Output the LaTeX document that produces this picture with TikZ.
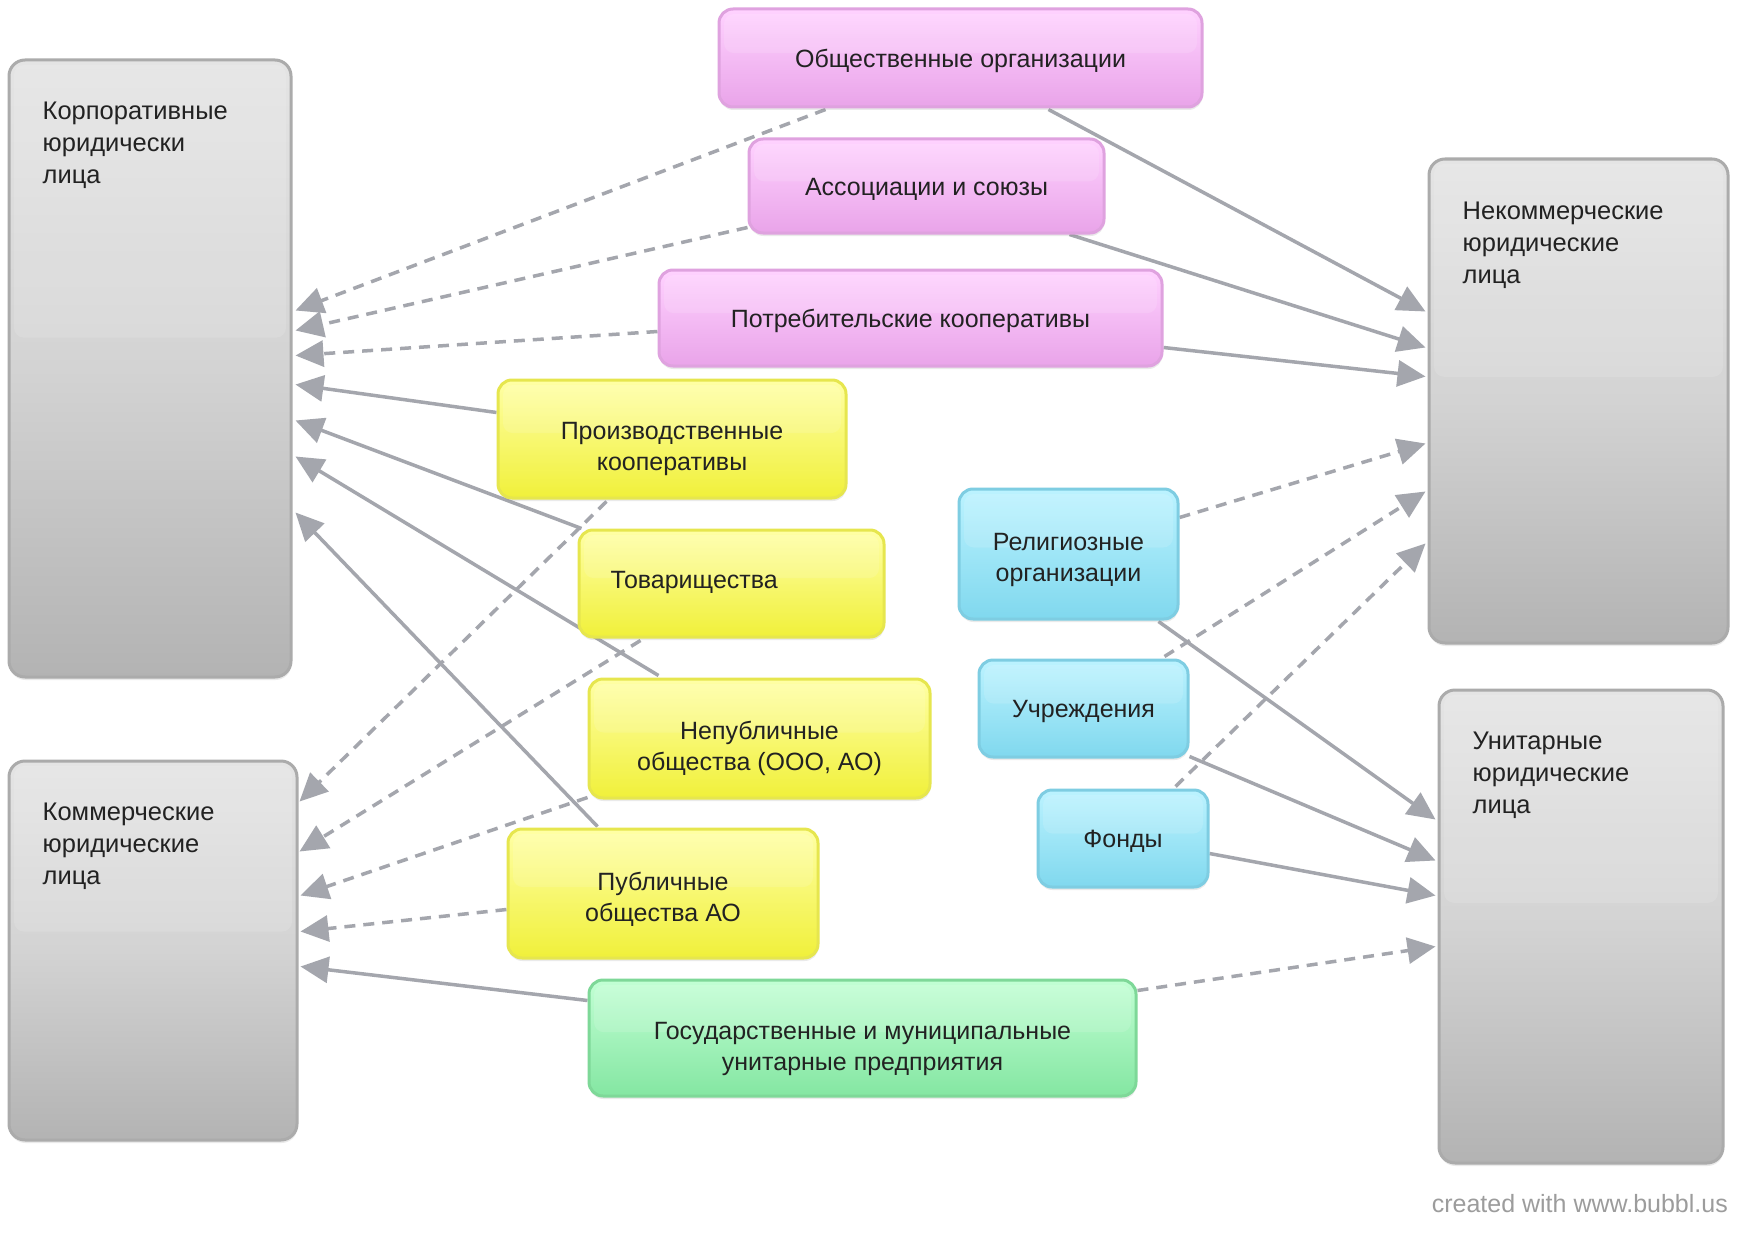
\documentclass[tikz,border=0pt]{standalone}
\usepackage{fontspec}
\setmainfont{Liberation Sans}
\usetikzlibrary{arrows.meta,calc,shadows}
\definecolor{txt}{HTML}{222222}
\definecolor{arr}{HTML}{A4A6AD}
\definecolor{wmc}{HTML}{9C9C9C}
\definecolor{grayT}{HTML}{E4E4E4}
\definecolor{grayM}{HTML}{D3D3D3}
\definecolor{grayD}{HTML}{B3B3B3}
\definecolor{grayB}{HTML}{ABABAB}
\definecolor{pinkT}{HTML}{FFD2FF}
\definecolor{pinkD}{HTML}{E9A4E9}
\definecolor{pinkB}{HTML}{DFA2DF}
\definecolor{yelT}{HTML}{FFFFA6}
\definecolor{yelD}{HTML}{F0F03A}
\definecolor{yelB}{HTML}{E6E64E}
\definecolor{cyaT}{HTML}{BCF3FF}
\definecolor{cyaD}{HTML}{80D8EE}
\definecolor{cyaB}{HTML}{7ECDE2}
\definecolor{grnT}{HTML}{C2FFD4}
\definecolor{grnD}{HTML}{84E6A2}
\definecolor{grnB}{HTML}{7ED898}
\pgfdeclarelayer{bg}
\pgfsetlayers{bg,main}
\tikzset{
  box/.style={rectangle, rounded corners=14pt, line width=3pt, inner sep=0pt,
    drop shadow={shadow xshift=0.5pt, shadow yshift=-3pt, opacity=0.16},
    path picture={\fill[white, opacity=0.13, rounded corners=10pt]
      ($(path picture bounding box.north west)+(5,5)$) rectangle
      ($(path picture bounding box.north east)!0.45!(path picture bounding box.south east)+(-5,0)$);}},
  graybox/.style={box, rounded corners=16pt, draw=grayB, top color=grayT, bottom color=grayD, middle color=grayM},
  pinkbox/.style={box, draw=pinkB, top color=pinkT, bottom color=pinkD},
  yelbox/.style={box, draw=yelB, top color=yelT, bottom color=yelD},
  cyabox/.style={box, draw=cyaB, top color=cyaT, bottom color=cyaD},
  grnbox/.style={box, draw=grnB, top color=grnT, bottom color=grnD},
  boxtext/.style={align=center, inner sep=0pt, text=txt, font=\fontsize{25}{31}\selectfont},
  biglabel/.style={anchor=north west, align=left, inner sep=0pt, text=txt, font=\fontsize{25.5}{32.3}\selectfont},
  conn/.style={draw=arr, line width=3.5pt, -{Triangle[length=28pt,width=26pt]}},
  dconn/.style={conn, dash pattern=on 11pt off 8pt}
}
\begin{document}
\begin{tikzpicture}[x=1pt,y=-1pt]
\useasboundingbox (0,0) rectangle (1748,1236);

% big category boxes
\node[graybox, minimum width=282pt, minimum height=617pt] (korp) at (150,368.5) {};
\node[graybox, minimum width=288pt, minimum height=379pt] (komm) at (153,950.5) {};
\node[graybox, minimum width=299pt, minimum height=484pt] (nekomm) at (1578.5,401) {};
\node[graybox, minimum width=284pt, minimum height=473pt] (unit) at (1581,926.5) {};

\node[biglabel] (korpt) at ($(korp.north west)+(35,43)$) {Корпоративные\\юридически\\лица};
\node[biglabel] (kommt) at ($(komm.north west)+(35,43)$) {Коммерческие\\юридические\\лица};
\node[biglabel] (nekommt) at ($(nekomm.north west)+(35,44)$) {Некоммерческие\\юридические\\лица};
\node[biglabel] (unitt) at ($(unit.north west)+(35,43)$) {Унитарные\\юридические\\лица};

% pink
\node[pinkbox, minimum width=483pt, minimum height=98pt,
  label={[boxtext, name=obsht, yshift=-3pt]center:Общественные организации}] (obsh) at (960.5,58) {};
\node[pinkbox, minimum width=355pt, minimum height=94pt,
  label={[boxtext, name=assoct, yshift=-3pt]center:Ассоциации и союзы}] (assoc) at (926.5,186) {};
\node[pinkbox, minimum width=503pt, minimum height=96pt,
  label={[boxtext, name=potrebt, yshift=-3pt]center:Потребительские кооперативы}] (potreb) at (910.5,318) {};
% yellow
\node[yelbox, minimum width=348pt, minimum height=118pt,
  label={[boxtext, name=proizvt, yshift=-9.5pt]center:Производственные\\кооперативы}] (proizv) at (672,439) {};
\node[yelbox, minimum width=305pt, minimum height=107pt,
  label={[boxtext, name=tovart, anchor=west, xshift=33pt, yshift=1.5pt]west:Товарищества}] (tovar) at (731.5,583.5) {};
\node[yelbox, minimum width=341pt, minimum height=119pt,
  label={[boxtext, name=nepublt, yshift=-10pt]center:Непубличные\\общества (ООО, АО)}] (nepubl) at (759.5,738.5) {};
\node[yelbox, minimum width=310pt, minimum height=129pt,
  label={[boxtext, name=publt, yshift=-6pt]center:Публичные\\общества АО}] (publ) at (663,893.5) {};
% green
\node[grnbox, minimum width=547pt, minimum height=116pt,
  label={[boxtext, name=gost, yshift=-10.5pt]center:Государственные и муниципальные\\унитарные предприятия}] (gos) at (862.5,1038) {};
% cyan
\node[cyabox, minimum width=219pt, minimum height=130pt,
  label={[boxtext, name=religt, yshift=-6pt]center:Религиозные\\организации}] (relig) at (1068.5,554) {};
\node[cyabox, minimum width=209pt, minimum height=97pt,
  label={[boxtext, name=uchrt, yshift=-3pt]center:Учреждения}] (uchr) at (1083.5,708.5) {};
\node[cyabox, minimum width=170pt, minimum height=97pt,
  label={[boxtext, name=fondt, yshift=-3pt]center:Фонды}] (fond) at (1123,838.5) {};

\node[anchor=east, inner sep=0pt, text=wmc, font=\fontsize{25}{28}\selectfont] (wm) at (1728,1204) {created with www.bubbl.us};

\begin{pgfonlayer}{bg}
\fill[white] (0,0) rectangle (1748,1236);
% to korp
\draw[dconn] ($(obsh.south west)+(108,1)$) -- ($(korp.north east)+(3,252)$);
\draw[dconn] ($(assoc.south west)+(0,-7)$) -- ($(korp.north east)+(3,272)$);
\draw[dconn] ($(potreb.north west)+(0,63)$) -- ($(korp.north east)+(3,297)$);
\draw[conn] ($(proizv.north west)+(0,34)$) -- ($(korp.north east)+(3,326)$);
\draw[conn] ($(tovar.north west)+(4,0)$) -- ($(korp.north east)+(3,362)$);
\draw[conn] ($(nepubl.north west)+(71,-2)$) -- ($(korp.north east)+(3,398)$);
\draw[conn] ($(publ.north west)+(91,-1)$) -- ($(korp.north east)+(3,454)$);
% to komm
\draw[dconn] ($(proizv.south west)+(110,2)$) -- ($(komm.north east)+(1,42)$);
\draw[dconn] ($(tovar.south west)+(63,2)$) -- ($(komm.north east)+(1,92)$);
\draw[dconn] ($(nepubl.south west)+(0,-2)$) -- ($(komm.north east)+(2,136)$);
\draw[dconn] ($(publ.north west)+(0,82)$) -- ($(komm.north east)+(2,172)$);
\draw[conn] ($(gos.north west)+(0,22)$) -- ($(komm.north east)+(2,207)$);
% to nekomm
\draw[conn] ($(obsh.south west)+(331,1)$) -- ($(nekomm.north west)+(-2,154)$);
\draw[conn] ($(assoc.south west)+(322,0)$) -- ($(nekomm.north west)+(-2,190)$);
\draw[conn] ($(potreb.north east)+(0,79)$) -- ($(nekomm.north west)+(-2,219)$);
\draw[dconn] ($(relig.north east)+(0,30)$) -- ($(nekomm.north west)+(-2,286)$);
\draw[dconn] ($(uchr.north east)+(-25,-2)$) -- ($(nekomm.north west)+(-2,334)$);
\draw[dconn] ($(fond.north east)+(-34,-2)$) -- ($(nekomm.north west)+(-2,386)$);
% to unit
\draw[conn] ($(relig.south east)+(-21,1)$) -- ($(unit.north west)+(-2,131)$);
\draw[conn] ($(uchr.south east)+(0,-2)$) -- ($(unit.north west)+(-2,172)$);
\draw[conn] ($(fond.north east)+(0,65)$) -- ($(unit.north west)+(-2,207)$);
\draw[dconn] ($(gos.north east)+(0,12)$) -- ($(unit.north west)+(-2,258)$);
\end{pgfonlayer}
\end{tikzpicture}
\end{document}
